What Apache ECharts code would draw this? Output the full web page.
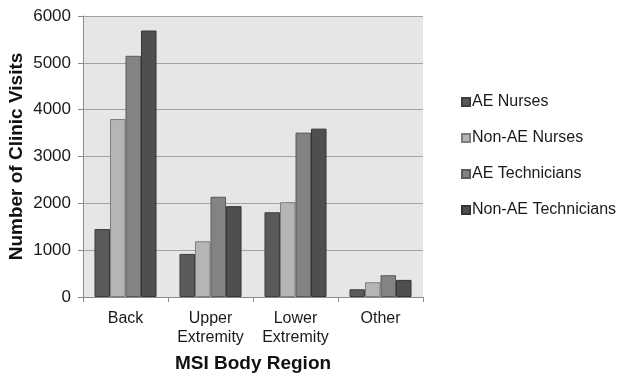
<!DOCTYPE html>
<html><head><meta charset="utf-8">
<script src="https://cdn.jsdelivr.net/npm/echarts@6/dist/echarts.min.js"></script>
<style>html,body{margin:0;padding:0;background:#fff}#c{width:621px;height:374px}</style>
</head><body><div id="c"></div>
<script>
var categories = ['Back', 'Upper\nExtremity', 'Lower\nExtremity', 'Other'];
var seriesNames = ['AE Nurses', 'Non-AE Nurses', 'AE Technicians', 'Non-AE Technicians'];
var aeNurses = [1450, 920, 1810, 165];
var nonAeNurses = [3800, 1190, 2025, 315];
var aeTechnicians = [5150, 2140, 3510, 465];
var nonAeTechnicians = [5690, 1940, 3595, 365];
var yTicks = [0, 1000, 2000, 3000, 4000, 5000, 6000];

var colors = ['#5a5a5a', '#b5b5b5', '#838383', '#4f4f4f'];
var borders = ['#3e3e3e', '#7d7d7d', '#5a5a5a', '#353535'];
var values = [aeNurses, nonAeNurses, aeTechnicians, nonAeTechnicians];
var font = 'Liberation Sans, Arial, sans-serif';

var chart = echarts.init(document.getElementById('c'), null, {renderer: 'canvas'});
chart.setOption({
  animation: false,
  textStyle: {fontFamily: font},
  grid: {left: 83, right: 198, top: 16, bottom: 77, show: true, backgroundColor: '#e6e6e6', borderWidth: 0,
    containLabel: false, outerBoundsMode: 'none'},
  legend: {
    orient: 'vertical', left: 456, top: 89,
    itemWidth: 8, itemHeight: 8, itemGap: 20,
    icon: 'rect',
    textStyle: {fontFamily: font, fontSize: 16, color: '#1a1a1a', padding: [0, 0, 0, -3]},
    data: seriesNames
  },
  xAxis: {
    type: 'category', data: categories,
    name: 'MSI Body Region', nameLocation: 'middle', nameGap: 57,
    nameTextStyle: {fontFamily: font, fontSize: 19, fontWeight: 'bold', color: '#111'},
    axisLine: {lineStyle: {color: '#8a8a8a', width: 1}},
    axisTick: {show: true, length: 5, lineStyle: {color: '#8a8a8a'}},
    axisLabel: {fontFamily: font, fontSize: 16, color: '#1a1a1a', margin: 12, lineHeight: 19, interval: 0}
  },
  yAxis: {
    type: 'value', min: 0, max: 6000, interval: 1000,
    name: 'Number of Clinic Visits', nameLocation: 'middle', nameGap: 57, nameMoveOverlap: false,
    nameTextStyle: {fontFamily: font, fontSize: 19, fontWeight: 'bold', color: '#111'},
    axisLine: {show: true, lineStyle: {color: '#8a8a8a'}},
    axisTick: {show: true, length: 5, lineStyle: {color: '#8a8a8a'}},
    axisLabel: {fontFamily: font, fontSize: 17, color: '#1a1a1a', margin: 12,
      formatter: function (v) { return yTicks.indexOf(v) >= 0 ? String(v) : ''; }},
    splitLine: {show: true, lineStyle: {color: '#a3a3a3', width: 1}}
  },
  series: seriesNames.map(function (n, i) {
    return {
      name: n, type: 'bar', data: values[i],
      barGap: '0%', barCategoryGap: '27%',
      itemStyle: {color: colors[i], borderColor: borders[i], borderWidth: 1}
    };
  })
});
</script></body></html>
